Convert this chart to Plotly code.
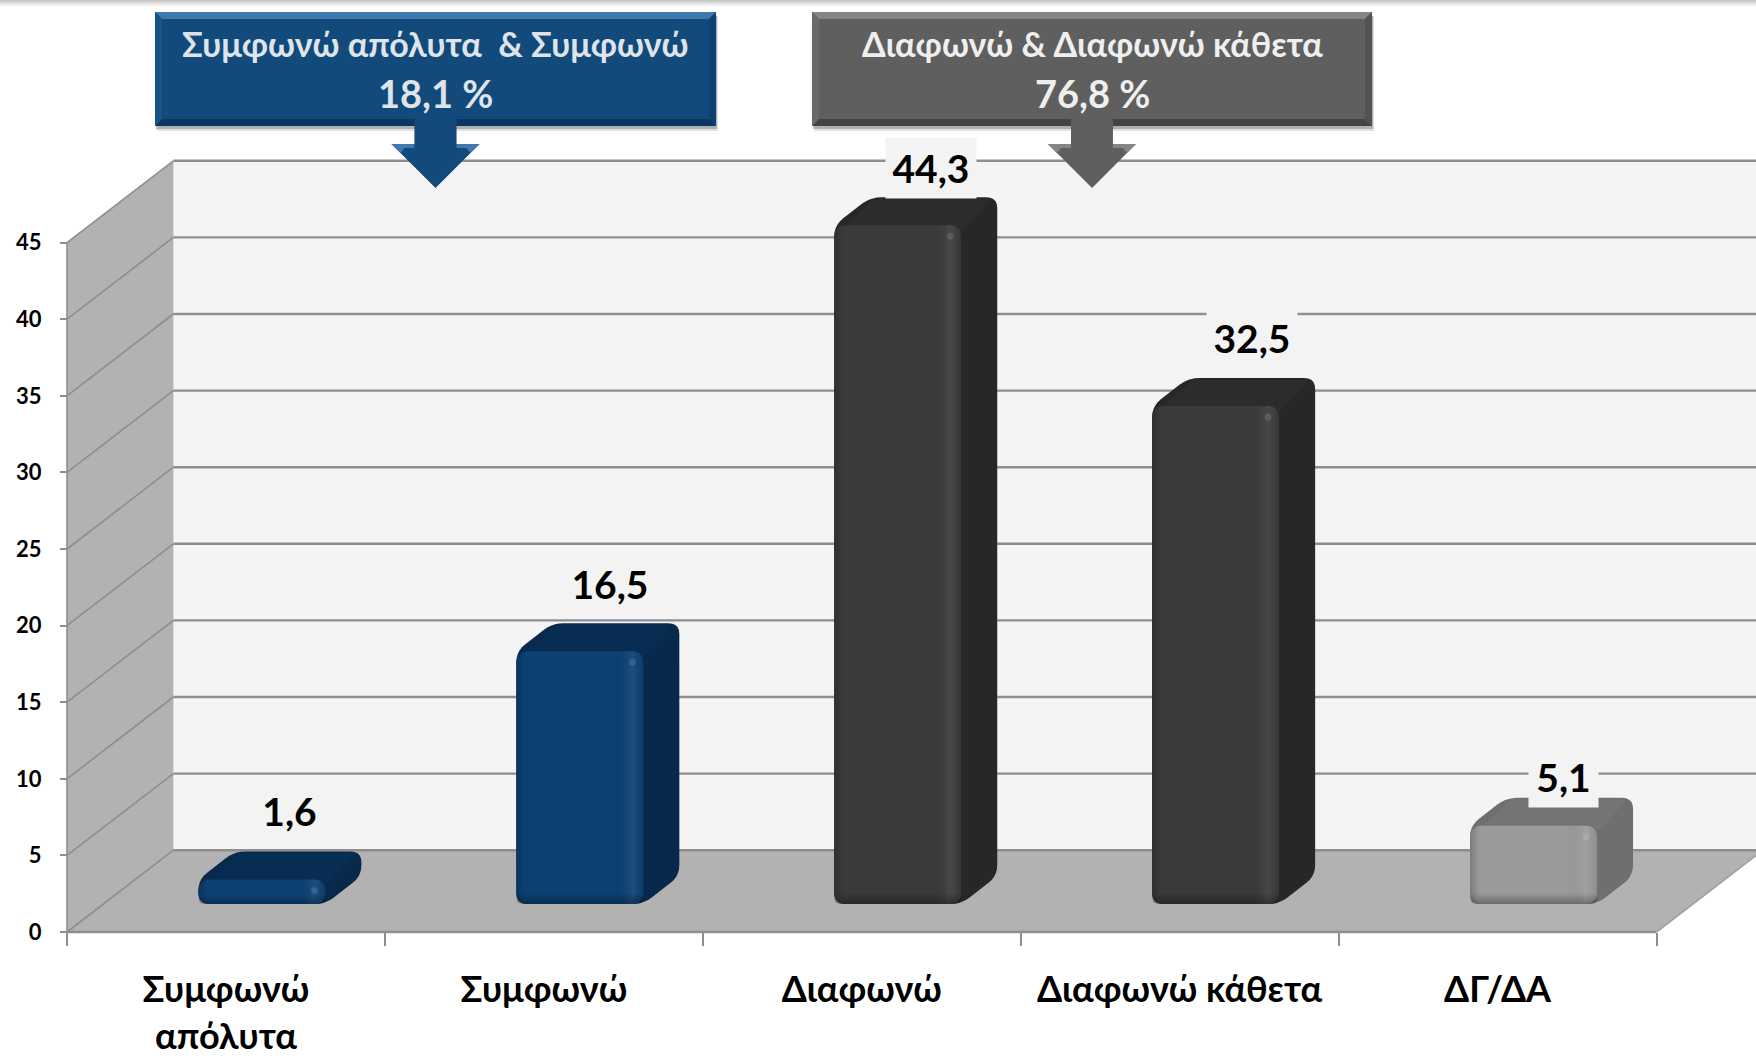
import plotly.graph_objects as go

# ---- data ----
categories = ["Συμφωνώ<br>απόλυτα", "Συμφωνώ", "Διαφωνώ", "Διαφωνώ κάθετα", "ΔΓ/ΔΑ"]
values = [1.6, 16.5, 44.3, 32.5, 5.1]
y_ticks = [0, 5, 10, 15, 20, 25, 30, 35, 40, 45]
callout_blue = ["Συμφωνώ απόλυτα  & Συμφωνώ", "18,1 %"]
callout_grey = ["Διαφωνώ & Διαφωνώ κάθετα", "76,8 %"]

# ---- style ----
front_colors = ["#0c4072", "#0c4072", "#3a3a3a", "#3a3a3a", "#9a9a9a"]
side_colors = ["#08294b", "#08294b", "#272727", "#272727", "#6f6f6f"]
top_colors = ["#072d52", "#072d52", "#2c2c2c", "#2c2c2c", "#747474"]
label_lift = [6.3, 6.2, 5.6, 6.3, 5.0]
label_shift_px = [28, 30, 33, 36, 30]
FONT = "Lato, 'Noto Sans', sans-serif"
W, H = 1756, 1059
X0_PX, Y0_PX, PX_X, PX_Y = 67.0, 932.0, 317.9, 15.32
x_range = [-0.5 - X0_PX / PX_X, -0.5 + (W - X0_PX) / PX_X]
y_range = [-(H - Y0_PX) / PX_Y, Y0_PX / PX_Y]
WALL_DX, WALL_DY = 106.4 / PX_X, 81.8 / PX_Y
BAR_DX, BAR_DY = 36 / PX_X, 28 / PX_Y
BAR_W = 127 / PX_X
GRID = "#8e8e8e"


def rounded(points, r=10, n=5):
    """Round a polygon given in data coordinates; r in pixels."""
    pts = [(x * PX_X, y * PX_Y) for x, y in points]
    out = []
    m = len(pts)
    for i in range(m):
        p, c, q = pts[i - 1], pts[i], pts[(i + 1) % m]
        def toward(a, b):
            d = ((a[0] - b[0]) ** 2 + (a[1] - b[1]) ** 2) ** 0.5
            t = min(r, d / 2) / d if d else 0
            return (b[0] + (a[0] - b[0]) * t, b[1] + (a[1] - b[1]) * t)
        a, b = toward(p, c), toward(q, c)
        for k in range(n + 1):
            t = k / n
            out.append(((1 - t) ** 2 * a[0] + 2 * t * (1 - t) * c[0] + t * t * b[0],
                        (1 - t) ** 2 * a[1] + 2 * t * (1 - t) * c[1] + t * t * b[1]))
    return [(x / PX_X, y / PX_Y) for x, y in out]


def path(points):
    return "M " + " L ".join(f"{x:.4f},{y:.4f}" for x, y in points) + " Z"


def poly_shape(points, fill, layer="below", line=None):
    return dict(type="path", xref="x", yref="y", path=path(points), fillcolor=fill,
                line=dict(width=0) if line is None else line, layer=layer)


def seg(x0, y0, x1, y1, width=2.4, color=GRID):
    return dict(type="line", xref="x", yref="y", x0=x0, y0=y0, x1=x1, y1=y1,
                line=dict(color=color, width=width), layer="below")


def px_poly(pts, fill, line=None):
    return dict(type="path", xref="paper", yref="paper",
                path=path([(x / W, 1 - y / H) for x, y in pts]), fillcolor=fill,
                line=dict(width=0) if line is None else line, layer="above")


left, right = -0.5, len(categories) - 0.5
top = y_ticks[-1]
shapes = [
    poly_shape([(left + WALL_DX, WALL_DY), (right + WALL_DX, WALL_DY),
                (right + WALL_DX, top + WALL_DY), (left + WALL_DX, top + WALL_DY)], "#f4f4f4"),
    poly_shape([(left, 0), (right, 0), (right + WALL_DX, WALL_DY), (left + WALL_DX, WALL_DY)], "#b2b2b2"),
    poly_shape([(left, 0), (left + WALL_DX, WALL_DY), (left + WALL_DX, top + WALL_DY), (left, top)], "#b2b2b2"),
]
for v in y_ticks:
    shapes.append(seg(left + WALL_DX, v + WALL_DY, right + WALL_DX, v + WALL_DY))
    shapes.append(seg(left, v, left + WALL_DX, v + WALL_DY, width=1.6))
shapes.append(seg(left, 0, right, 0))
shapes.append(seg(left, 0, left, top, width=1.6))
shapes.append(seg(right, 0, right + WALL_DX, WALL_DY, width=1.6, color="#a0a0a0"))

fig = go.Figure()

# silhouette and top face of each bar sit under the front face
for i, v in enumerate(values):
    xl = i + BAR_DX - BAR_W / 2
    xr = i + BAR_DX + BAR_W / 2
    b, t = BAR_DY, BAR_DY + v
    shapes.append(poly_shape(rounded([(xl, b), (xr, b), (xr + BAR_DX, b + BAR_DY), (xr + BAR_DX, t + BAR_DY),
                                      (xl + BAR_DX, t + BAR_DY), (xl, t)], r=11), side_colors[i]))
    inset = 5 / PX_X
    shapes.append(poly_shape(rounded([(xl + inset, t - 0.4), (xr, t - 0.4), (xr + BAR_DX - inset, t + BAR_DY - 0.1),
                                      (xl + BAR_DX + inset, t + BAR_DY - 0.1)], r=5), top_colors[i]))

fig.add_trace(go.Bar(
    x=[i + BAR_DX for i in range(len(values))], y=values, base=BAR_DY, width=BAR_W,
    marker=dict(color=front_colors, line=dict(width=0)), hoverinfo="skip", showlegend=False,
))

# soft bevel across each front face, plus the small glint at its upper right corner
for i, v in enumerate(values):
    xl = i + BAR_DX - BAR_W / 2
    xr = i + BAR_DX + BAR_W / 2
    b, t = BAR_DY, BAR_DY + v
    pts = rounded([(xl, b), (xr, b), (xr, t), (xl, t)], r=10)
    fig.add_trace(go.Scatter(
        x=[p[0] for p in pts], y=[p[1] for p in pts], mode="lines", fill="toself",
        line=dict(width=0), hoverinfo="skip", showlegend=False,
        fillgradient=dict(type="horizontal", colorscale=[
            [0, "rgba(0,0,0,0.2)"], [0.07, "rgba(0,0,0,0)"], [0.78, "rgba(0,0,0,0)"],
            [0.91, "rgba(255,255,255,0.07)"], [1, "rgba(0,0,0,0.08)"]]),
    ))
    low = min(0.75, v * 0.35)
    pts2 = rounded([(xl, b), (xr, b), (xr, b + low), (xl, b + low)], r=6)
    fig.add_trace(go.Scatter(
        x=[p[0] for p in pts2], y=[p[1] for p in pts2], mode="lines", fill="toself",
        line=dict(width=0), hoverinfo="skip", showlegend=False,
        fillgradient=dict(type="vertical", colorscale=[[0, "rgba(0,0,0,0.3)"], [1, "rgba(0,0,0,0)"]]),
    ))
    fig.add_trace(go.Scatter(
        x=[xr - 11 / PX_X], y=[t - 11 / PX_Y], mode="markers",
        marker=dict(size=7, color="rgba(255,255,255,0.12)", line=dict(width=0)),
        hoverinfo="skip", showlegend=False,
    ))

# value labels
annotations = []
for i, v in enumerate(values):
    text = f"{v:.1f}".replace(".", ",")
    annotations.append(dict(
        x=i + BAR_DX + label_shift_px[i] / PX_X, y=v + label_lift[i], xref="x", yref="y",
        text=f"<b>{text}</b>", showarrow=False,
        font=dict(family=FONT, size=39, color="#000000"), bgcolor="#f3f3f3",
        width=21 * len(text) + 4, height=58, align="center", valign="middle",
    ))


def callout(x0, x1, face, light, dark, mid_l, mid_r, lines, text_color):
    y0, y1, e = 12, 126, 7
    cx = (x0 + x1) / 2
    out = [
        px_poly([(x0 + 2, y0 + 4), (x1 + 2, y0 + 4), (x1 + 2, y1 + 5), (x0 + 2, y1 + 5)], "rgba(0,0,0,0.12)"),
        px_poly([(x0 + 1, y0 + 4), (x1 + 1, y0 + 4), (x1 + 1, y1 + 3), (x0 + 1, y1 + 3)], "rgba(0,0,0,0.22)"),
        px_poly([(x0, y0), (x1, y0), (x1, y1), (x0, y1)], face),
        px_poly([(x0, y0), (x1, y0), (x1 - e, y0 + e), (x0 + e, y0 + e)], light),
        px_poly([(x0, y1), (x1, y1), (x1 - e, y1 - e), (x0 + e, y1 - e)], dark),
        px_poly([(x0, y0), (x0 + e, y0 + e), (x0 + e, y1 - e), (x0, y1)], mid_l),
        px_poly([(x1, y0), (x1 - e, y0 + e), (x1 - e, y1 - e), (x1, y1)], mid_r),
        # arrow under the box
        px_poly([(cx - 21, y1 - 8), (cx + 21, y1 - 8), (cx + 21, 144), (cx + 44, 144), (cx, 188), (cx - 44, 144),
                 (cx - 21, 144)], face),
        px_poly([(cx - 44, 144), (cx - 21, 144), (cx - 21, 148), (cx - 31, 148), (cx - 35, 153)], light),
        px_poly([(cx + 44, 144), (cx + 21, 144), (cx + 21, 148), (cx + 31, 148), (cx + 35, 153)], light),
    ]
    notes = []
    for text, py, size in zip(lines, (44, 93), (34, 38)):
        notes.append(dict(x=cx / W, y=1 - py / H, xref="paper", yref="paper", showarrow=False,
                          xanchor="center", yanchor="middle",
                          text=f"<b>{text}</b>", font=dict(family=FONT, size=size, color=text_color)))
    return out, notes


s1, n1 = callout(155, 716, "#134a7c", "#3f79ad", "#0c3660", "#175488", "#0f4070", callout_blue, "#dfe4ea")
s2, n2 = callout(812, 1372, "#5f5f5f", "#858585", "#444444", "#696969", "#525252", callout_grey, "#efefef")
shapes += s1 + s2
annotations += n1 + n2

# faint band along the top of the page
for py, col in ((0, "#c8c8c8"), (2, "#dedede"), (4, "#f0f0f0")):
    shapes.append(px_poly([(0, py), (W, py), (W, py + 2), (0, py + 2)], col))

fig.update_layout(
    width=W, height=H, margin=dict(l=0, r=0, t=0, b=0, autoexpand=False), autosize=False,
    paper_bgcolor="#ffffff", plot_bgcolor="#ffffff", showlegend=False,
    barcornerradius=10, shapes=shapes, annotations=annotations,
    xaxis=dict(
        range=x_range, domain=[0, 1], anchor="free", position=(H - Y0_PX) / H, automargin=False,
        tickmode="array", tickvals=list(range(len(categories))), ticktext=[f"<b>{c}</b>" for c in categories],
        ticks="", ticklabelstandoff=33, showgrid=False, zeroline=False, showline=False, fixedrange=True,
        tickfont=dict(family=FONT, size=36, color="#000000"),
        minor=dict(tickmode="array", tickvals=[i - 0.5 for i in range(len(categories) + 1)],
                   ticks="outside", ticklen=13, tickwidth=2.4, tickcolor=GRID, showgrid=False),
    ),
    yaxis=dict(
        range=y_range, domain=[0, 1], anchor="free", position=X0_PX / W, automargin=False,
        tickmode="array", tickvals=y_ticks, ticktext=[f"<b>{v}</b>" for v in y_ticks],
        ticks="outside", ticklen=7, tickwidth=2, tickcolor=GRID, ticklabelstandoff=14,
        showgrid=False, zeroline=False, showline=False, fixedrange=True,
        tickfont=dict(family=FONT, size=22, color="#000000"),
    ),
)

fig.write_html("out.html", config={"displayModeBar": False},
               post_script="document.body.style.margin='0';document.documentElement.style.overflow='hidden';")
